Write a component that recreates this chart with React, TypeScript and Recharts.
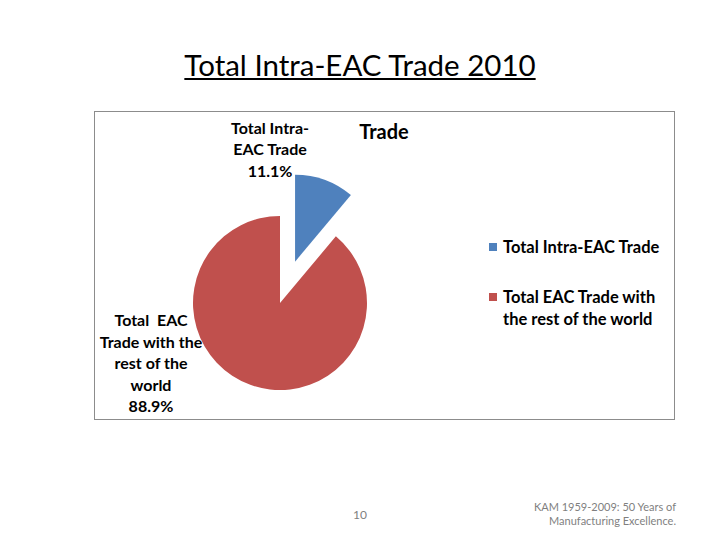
import { Cell, Legend, Pie, PieChart } from 'recharts';

const categories = ['Total Intra-EAC Trade', 'Total EAC Trade with the rest of the world'];
const shares = [11.1, 88.9];
const colors = ['#4F81BD', '#C0504D'];

const FONT = 'Lato, "Open Sans", sans-serif';

const CX = 280;
const CY = 303;
const RADIUS = 87;
const EXPLODE = 44;

const data = categories.map((name, i) => ({ name, value: shares[i] }));
const total = shares.reduce((a, b) => a + b, 0);
// middle of the first slice, recharts degrees (90 = top, clockwise to -270)
const midAngle = 90 - (shares[0] / total) * 180;
const rad = (midAngle * Math.PI) / 180;
const blueCx = CX + EXPLODE * Math.cos(rad);
const blueCy = CY - EXPLODE * Math.sin(rad);

const pct = (p: number) => `${(p * 100).toFixed(1)}%`;

const blueLabel = (props: any) => {
  if (props.index !== 0) return null;
  const x = props.cx - 25;
  const y = props.cy - 128;
  const lines = ['Total Intra-', 'EAC Trade', pct(props.percent)];
  return (
    <text x={x} y={y} textAnchor="middle" fontFamily={FONT} fontWeight={700} fontSize={16} fill="#000">
      {lines.map((l, i) => (
        <tspan key={i} x={x} dy={i === 0 ? 0 : 21.5}>{l}</tspan>
      ))}
    </text>
  );
};

const redLabel = (props: any) => {
  if (props.index !== 1) return null;
  const x = props.cx - 129;
  const y = props.cy + 23;
  const lines = ['Total\u00a0\u00a0EAC', 'Trade with the', 'rest of the', 'world', pct(props.percent)];
  return (
    <text x={x} y={y} textAnchor="middle" fontFamily={FONT} fontWeight={700} fontSize={16} fill="#000">
      {lines.map((l, i) => (
        <tspan key={i} x={x} dy={i === 0 ? 0 : 21.5}>{l}</tspan>
      ))}
    </text>
  );
};

const LegendBox = () => (
  <div style={{ fontFamily: FONT, fontWeight: 700, fontSize: 16.5, color: '#000', lineHeight: '22px' }}>
    <div style={{ display: 'flex', alignItems: 'flex-start', marginBottom: 28 }}>
      <span style={{ width: 8, height: 8, background: colors[0], marginTop: 7, marginRight: 6, flex: 'none' }} />
      <span>{categories[0]}</span>
    </div>
    <div style={{ display: 'flex', alignItems: 'flex-start' }}>
      <span style={{ width: 8, height: 8, background: colors[1], marginTop: 7, marginRight: 6, flex: 'none' }} />
      <span>Total EAC Trade with<br />the rest of the world</span>
    </div>
  </div>
);

export default function App() {
  return (
    <div style={{ position: 'absolute', left: 0, top: 0, width: 720, height: 540, background: '#fff' }}>
      <div
        style={{
          position: 'absolute', left: 0, width: 720, top: 47, textAlign: 'center',
          fontFamily: FONT, fontSize: 29.5, textDecoration: 'underline', color: '#000',
        }}
      >
        Total Intra-EAC Trade 2010
      </div>
      <div
        style={{
          position: 'absolute', left: 94, top: 111, width: 579, height: 307,
          border: '1px solid #8c8c8c',
        }}
      />
      <div style={{ position: 'absolute', left: 0, top: 0 }}>
        <PieChart width={720} height={540} margin={{ top: 0, right: 0, bottom: 0, left: 0 }}>
          <text x={384} y={139} textAnchor="middle" fontFamily={FONT} fontWeight={700} fontSize={20} fill="#000">
            Trade
          </text>
          <Pie
            data={data}
            dataKey="value"
            nameKey="name"
            cx={CX}
            cy={CY}
            outerRadius={RADIUS}
            startAngle={90}
            endAngle={-270}
            stroke="none"
            label={redLabel}
            labelLine={false}
            isAnimationActive={false}
          >
            {data.map((d, i) => (
              <Cell key={d.name} fill={i === 1 ? colors[1] : 'none'} />
            ))}
          </Pie>
          <Pie
            data={data}
            dataKey="value"
            nameKey="name"
            cx={blueCx}
            cy={blueCy}
            outerRadius={RADIUS}
            startAngle={90}
            endAngle={-270}
            stroke="none"
            label={blueLabel}
            labelLine={false}
            isAnimationActive={false}
          >
            {data.map((d, i) => (
              <Cell key={d.name} fill={i === 0 ? colors[0] : 'none'} />
            ))}
          </Pie>
          <Legend
            content={() => <LegendBox />}
            wrapperStyle={{ position: 'absolute', left: 489, top: 236, width: 200 }}
          />
        </PieChart>
      </div>
      <div style={{ position: 'absolute', left: 340, width: 40, top: 507, textAlign: 'center', fontFamily: FONT, fontSize: 12, color: '#7f7f7f' }}>
        10
      </div>
      <div
        style={{
          position: 'absolute', right: 44, top: 500, textAlign: 'right', fontFamily: FONT,
          fontSize: 11, lineHeight: '14px', color: '#7f7f7f',
        }}
      >
        KAM 1959-2009: 50 Years of
        <br />
        Manufacturing Excellence.
      </div>
    </div>
  );
}
